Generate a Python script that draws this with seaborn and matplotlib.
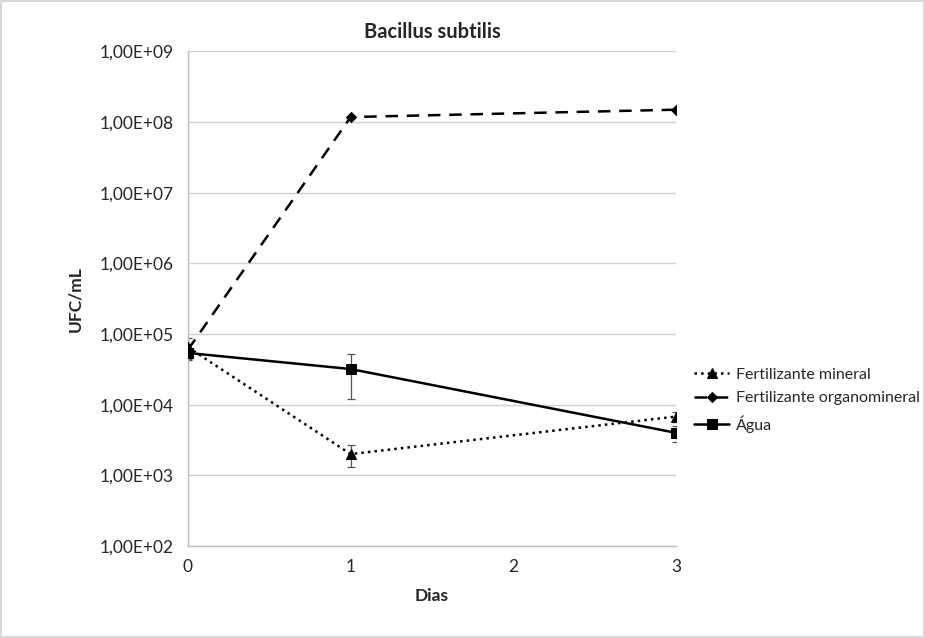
import numpy as np
import pandas as pd
import matplotlib
matplotlib.use("Agg")
import matplotlib.pyplot as plt
from matplotlib.ticker import FuncFormatter, FixedLocator
import seaborn as sns

# --- data ---
dias = [0, 1, 3]
mineral = [6.5e4, 2.0e3, 6.8e3]
mineral_err = [2.2e4, 7.0e2, 1.2e3]
organo = [6.0e4, 1.18e8, 1.5e8]
organo_err = [0.0, 0.0, 0.0]
agua = [5.4e4, 3.2e4, 4.0e3]
agua_err = [1.0e4, 2.0e4, 1.0e3]
labels = ["Fertilizante mineral", "Fertilizante organomineral", "Água"]

sns.set_style("white")
plt.rcParams["font.family"] = ["Lato", "DejaVu Sans"]

fig = plt.figure(figsize=(9.25, 6.38), dpi=100)
fig.patch.set_edgecolor("#d9d9d9")
fig.patch.set_linewidth(1.5)
ax = fig.add_axes([0.2032, 0.1442, 0.5276, 0.7751])

series = [
    (mineral, mineral_err, labels[0], ":", "^", 7),
    (organo, organo_err, labels[1], (0, (5, 3.5)), "D", 5),
    (agua, agua_err, labels[2], "-", "s", 7),
]

handles = []
for vals, errs, lab, ls, mk, ms in series:
    df = pd.DataFrame({"Dias": dias, "UFC": vals})
    sns.lineplot(data=df, x="Dias", y="UFC", ax=ax, color="black",
                 linestyle=ls, linewidth=1.8, marker=mk, markersize=ms,
                 markeredgecolor="black", label=lab, legend=False, zorder=3)
    handles.append(ax.lines[-1])
    if any(e > 0 for e in errs):
        ax.errorbar(dias, vals, yerr=errs, fmt="none", ecolor="#555555",
                    elinewidth=0.9, capsize=3, capthick=0.9, zorder=2)

ax.set_yscale("log")
ax.set_ylim(1e2, 1e9)
ax.set_xlim(0, 3)
ax.yaxis.set_major_locator(FixedLocator([10.0 ** k for k in range(2, 10)]))
ax.yaxis.set_minor_locator(FixedLocator([]))
ax.yaxis.set_major_formatter(FuncFormatter(lambda v, p: "1,00E+%02d" % int(round(np.log10(v)))))
ax.set_xticks([0, 1, 2, 3])
ax.grid(axis="y", color="#d0d0d0", linewidth=1)
ax.axvline(0, color="#d0d0d0", linewidth=1, zorder=0)

for s in ["top", "right"]:
    ax.spines[s].set_visible(False)
for s in ["left", "bottom"]:
    ax.spines[s].set_color("#bfbfbf")
    ax.spines[s].set_linewidth(1)
ax.tick_params(axis="x", direction="out", length=5, color="#bfbfbf", labelsize=12.5, pad=4)
ax.tick_params(axis="y", length=0, labelsize=12.5, pad=10)

ax.set_title("Bacillus subtilis", fontsize=14.5, fontweight="bold", pad=10)
ax.set_xlabel("Dias", fontsize=12.5, fontweight="bold", labelpad=10)
ax.set_ylabel("UFC/mL", fontsize=12.5, fontweight="bold", labelpad=12)

fig.legend(handles=handles, labels=labels, loc="center left",
           bbox_to_anchor=(0.735, 0.373), frameon=False, fontsize=11.5,
           handlelength=2.2, handletextpad=0.4, labelspacing=0.6)

fig.savefig("out.png", dpi=100)
